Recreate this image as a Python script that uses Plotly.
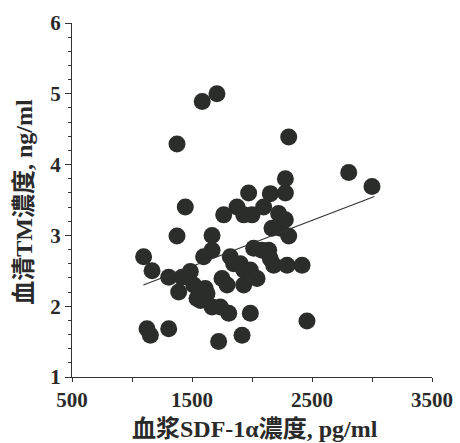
import plotly.graph_objects as go

# SDF-1α (pg/ml) and TM (ng/ml) values
sdf = [1708, 1585, 1375, 2306, 2806, 3000, 2278, 2153, 2278, 1972,
       1444, 2097, 1875, 1764, 1931, 2000, 2222, 2278, 2236, 2167,
       2306, 1375, 1667, 1667, 1597, 1097, 1167, 1306, 1417, 1486,
       1389, 1514, 1569, 1542, 1625, 1667, 1736, 1806, 1750, 1792,
       1819, 1847, 1903, 1931, 1931, 1986, 2042, 2014, 2083, 2139,
       2153, 2181, 2292, 2417, 2458, 1986, 1917, 1722, 1306, 1125,
       1153, 1610, 1570]
tm = [5.00, 4.89, 4.29, 4.39, 3.89, 3.69, 3.80, 3.59, 3.60, 3.60,
      3.40, 3.40, 3.40, 3.29, 3.29, 3.29, 3.31, 3.22, 3.10, 3.10,
      2.99, 2.99, 3.00, 2.79, 2.70, 2.70, 2.50, 2.41, 2.41, 2.49,
      2.20, 2.30, 2.20, 2.11, 2.18, 1.99, 1.99, 1.90, 2.39, 2.30,
      2.70, 2.60, 2.60, 2.51, 2.30, 2.51, 2.39, 2.82, 2.79, 2.79,
      2.67, 2.58, 2.58, 2.58, 1.79, 1.90, 1.59, 1.50, 1.68, 1.68,
      1.59, 2.25, 2.08]

# regression line end points
fit_x = [1095, 3020]
fit_y = [2.30, 3.55]

x_ticks = [500, 1000, 1500, 2000, 2500, 3000, 3500]
x_labels = ["500", "", "1500", "", "2500", "", "3500"]
y_ticks = [1, 2, 3, 4, 5, 6]
y_labels = ["1", "2", "3", "4", "5", "6"]

x_title = "血浆SDF-1α濃度, pg/ml"
y_title = "血清TM濃度, ng/ml"

FONT = "Liberation Serif, Times New Roman, Noto Sans CJK SC, serif"
INK = "#2a2d2a"
TXT = "#2a2a2a"

fig = go.Figure()
fig.add_trace(go.Scatter(
    x=sdf, y=tm, mode="markers",
    marker=dict(size=17, color=INK, line=dict(width=0)),
    showlegend=False, cliponaxis=False))
fig.add_trace(go.Scatter(
    x=fit_x, y=fit_y, mode="lines",
    line=dict(color="#333333", width=1.2),
    showlegend=False))

fig.update_layout(
    width=460, height=443,
    margin=dict(l=72, r=28, t=23, b=66, autoexpand=False),
    paper_bgcolor="white", plot_bgcolor="white",
    font=dict(family=FONT, color=TXT),
    xaxis=dict(range=[500, 3500], tickvals=x_ticks,
               ticktext=["<b>" + t + "</b>" if t else "" for t in x_labels],
               showgrid=False, zeroline=False, showline=True,
               linecolor="#333333", linewidth=1.2,
               ticks="outside", ticklen=4, tickwidth=1.2, tickcolor="#333333",
               ticklabelstandoff=0, automargin=False,
               tickfont=dict(family=FONT, size=21, color=TXT)),
    yaxis=dict(range=[1, 6], tickvals=y_ticks,
               ticktext=["<b>" + t + "</b>" for t in y_labels],
               showgrid=False, zeroline=False, showline=True,
               linecolor="#333333", linewidth=1.2,
               ticks="outside", ticklen=6, tickwidth=1.2, tickcolor="#333333",
               ticklabelstandoff=0, automargin=False,
               tickfont=dict(family=FONT, size=21, color=TXT),
               minor=dict(dtick=0.2, ticks="outside", ticklen=3,
                          tickwidth=1, tickcolor="#333333", showgrid=False)),
    annotations=[
        dict(text="<b>" + x_title + "</b>", xref="paper", yref="paper",
             x=0.508, y=0, yshift=-52, xanchor="center", yanchor="middle",
             showarrow=False, font=dict(family=FONT, size=24, color=TXT)),
        dict(text="<b>" + y_title + "</b>", xref="paper", yref="paper",
             x=0, xshift=-48, y=0.495, textangle=-90,
             xanchor="center", yanchor="middle",
             showarrow=False, font=dict(family=FONT, size=24, color=TXT)),
    ],
)

fig.write_html("out.html", config={"displayModeBar": False},
               post_script="document.body.style.margin='0';document.body.style.padding='0';")
